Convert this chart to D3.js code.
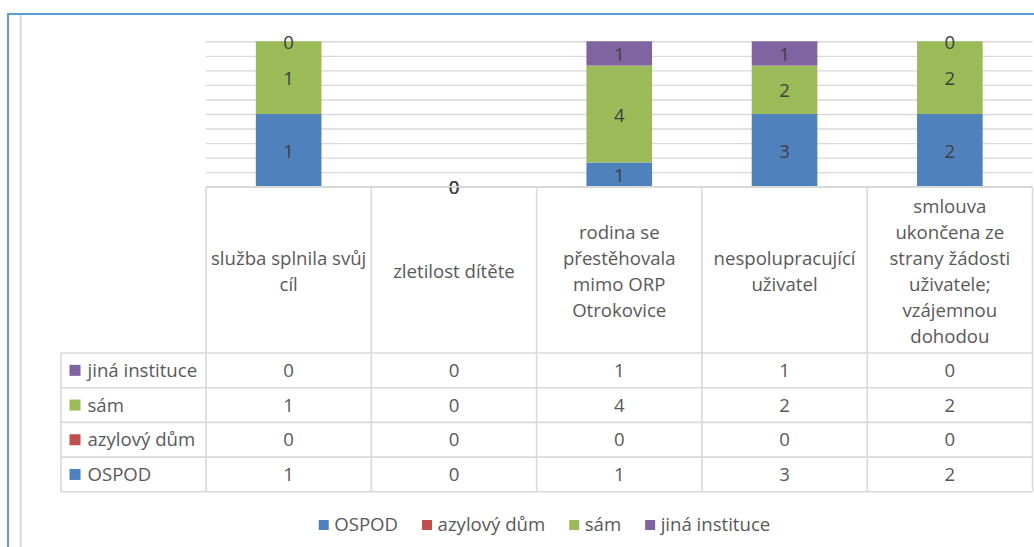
<!DOCTYPE html>
<html>
<head>
<meta charset="utf-8">
<script src="https://cdn.jsdelivr.net/npm/d3@7"></script>
<style>
  html, body { margin: 0; padding: 0; background: #fff; }
  svg { display: block; }
  text { font-family: "Open Sans", "Noto Sans", sans-serif; }
</style>
</head>
<body>
<svg id="chart" width="1034" height="547"></svg>
<script>
// ---- data ----
const categories = [
  "služba splnila svůj\ncíl",
  "zletilost dítěte",
  "rodina se\npřestěhovala\nmimo ORP\nOtrokovice",
  "nespolupracující\nuživatel",
  "smlouva\nukončena ze\nstrany žádosti\nuživatele;\nvzájemnou\ndohodou"
];
const seriesNames = ["OSPOD", "azylový dům", "sám", "jiná instituce"];
const ospod    = [1, 0, 1, 3, 2];
const azylovy  = [0, 0, 0, 0, 0];
const sam      = [1, 0, 4, 2, 2];
const jina     = [0, 0, 1, 1, 0];
const seriesValues = [ospod, azylovy, sam, jina];
const seriesColors = ["#4f81bd", "#c0504d", "#9bbb59", "#8064a2"];
const labeledSeries = ["OSPOD", "sám", "jiná instituce"];
const tableRowOrder = ["jiná instituce", "sám", "azylový dům", "OSPOD"];

// ---- layout ----
const svg = d3.select("#chart");
const plotLeft = 206, plotRight = 1032.5, plotTop = 41.3, plotBottom = 186.7;
const headerBottom = 353, rowH = 34.7, tableLeft = 61;
const gridColor = "#d9d9d9";
const textColor = "#595959";
const fs = 18.6;

// frame
svg.append("line").attr("x1", 8).attr("x2", 1034).attr("y1", 14).attr("y2", 14)
  .attr("stroke", "#5b9bd5").attr("stroke-width", 2);
svg.append("line").attr("x1", 8).attr("x2", 8).attr("y1", 13).attr("y2", 547)
  .attr("stroke", "#5b9bd5").attr("stroke-width", 2);
svg.append("line").attr("x1", 20.7).attr("x2", 20.7).attr("y1", 15).attr("y2", 547)
  .attr("stroke", gridColor).attr("stroke-width", 2);

// scales
const x = d3.scaleBand().domain(categories).range([plotLeft, plotRight]).padding(0);
const y = d3.scaleLinear().domain([0, 1]).range([plotBottom, plotTop]);

// gridlines via axis
const grid = svg.append("g").attr("transform", `translate(${plotLeft},0)`)
  .call(d3.axisLeft(y).ticks(10).tickSize(-(plotRight - plotLeft)).tickFormat(""));
grid.select(".domain").remove();
grid.selectAll(".tick line").attr("stroke", gridColor).attr("stroke-width", 1.4);

// stacked 100% data
const rows = categories.map((c, i) => {
  const o = { cat: c };
  seriesNames.forEach((s, k) => o[s] = seriesValues[k][i]);
  return o;
});
const stack = d3.stack().keys(seriesNames).offset(d3.stackOffsetExpand);
const stacked = stack(rows);

const barW = x.bandwidth() * 0.397;
const gBars = svg.append("g");
stacked.forEach((layer, k) => {
  gBars.selectAll(null).data(layer).enter().append("rect")
    .attr("x", d => x(d.data.cat) + (x.bandwidth() - barW) / 2)
    .attr("width", barW)
    .attr("y", d => y(isNaN(d[1]) ? 0 : d[1]))
    .attr("height", d => isNaN(d[1]) ? 0 : Math.max(0, y(d[0]) - y(d[1])))
    .attr("fill", seriesColors[k]);
});

// data labels
stacked.forEach((layer, k) => {
  if (!labeledSeries.includes(seriesNames[k])) return;
  gBars.selectAll(null).data(layer).enter().append("text")
    .filter(d => !(isNaN(d[1]) && k > 0))
    .attr("x", d => x(d.data.cat) + x.bandwidth() / 2)
    .attr("y", d => isNaN(d[1]) ? y(0) + 4 : y((d[0] + d[1]) / 2) + 1)
    .attr("dy", "0.36em")
    .attr("text-anchor", "middle")
    .attr("font-size", fs)
    .attr("fill", "#404040")
    .attr("stroke", d => isNaN(d[1]) ? "#404040" : "none")
    .attr("stroke-width", 0.4)
    .text(d => d.data[seriesNames[k]]);
});

// ---- data table ----
const gT = svg.append("g");
const line = (x1, y1, x2, y2) => gT.append("line")
  .attr("x1", x1).attr("y1", y1).attr("x2", x2).attr("y2", y2)
  .attr("stroke", gridColor).attr("stroke-width", 1.6);
const tableBottom = headerBottom + rowH * tableRowOrder.length;
line(plotLeft, plotBottom, plotRight, plotBottom);
categories.forEach(c => line(x(c), plotBottom, x(c), tableBottom));
line(plotRight, plotBottom, plotRight, tableBottom);
line(tableLeft, headerBottom, tableLeft, tableBottom);
for (let r = 0; r <= tableRowOrder.length; r++) {
  line(tableLeft, headerBottom + r * rowH, plotRight, headerBottom + r * rowH);
}

// header text
const lineH = 26;
const headerMid = (plotBottom + headerBottom) / 2 + 1;
categories.forEach(c => {
  const parts = c.split("\n");
  const t = gT.append("text")
    .attr("text-anchor", "middle")
    .attr("font-size", fs)
    .attr("fill", textColor);
  parts.forEach((p, i) => {
    t.append("tspan")
      .attr("x", x(c) + x.bandwidth() / 2)
      .attr("y", headerMid + (i - (parts.length - 1) / 2) * lineH)
      .attr("dy", "0.36em")
      .text(p);
  });
});

// rows
tableRowOrder.forEach((s, r) => {
  const k = seriesNames.indexOf(s);
  const cy = headerBottom + r * rowH + rowH / 2;
  gT.append("rect").attr("x", 69.5).attr("y", cy - 5.5).attr("width", 11).attr("height", 11)
    .attr("fill", seriesColors[k]);
  gT.append("text").attr("x", 87.5).attr("y", cy).attr("dy", "0.36em")
    .attr("font-size", fs).attr("fill", textColor).text(s);
  categories.forEach((c, i) => {
    gT.append("text").attr("x", x(c) + x.bandwidth() / 2).attr("y", cy).attr("dy", "0.36em")
      .attr("text-anchor", "middle").attr("font-size", fs).attr("fill", textColor)
      .text(seriesValues[k][i]);
  });
});

// ---- legend ----
const legendY = 524.5;
const gL = svg.append("g");
const items = [];
seriesNames.forEach((s, k) => {
  const g = gL.append("g");
  g.append("rect").attr("x", 0).attr("y", legendY - 4.5).attr("width", 10).attr("height", 10)
    .attr("fill", seriesColors[k]);
  const t = g.append("text").attr("x", 15.5).attr("y", legendY).attr("dy", "0.36em")
    .attr("font-size", fs).attr("fill", textColor).text(s);
  items.push({ g, w: 15.5 + t.node().getComputedTextLength() });
});
const gap = 24;
const totalW = d3.sum(items, d => d.w) + gap * (items.length - 1);
const startX = 544.5 - totalW / 2;
let cx = startX;
items.forEach(it => { it.g.attr("transform", `translate(${cx},0)`); cx += it.w + gap; });
</script>
</body>
</html>
